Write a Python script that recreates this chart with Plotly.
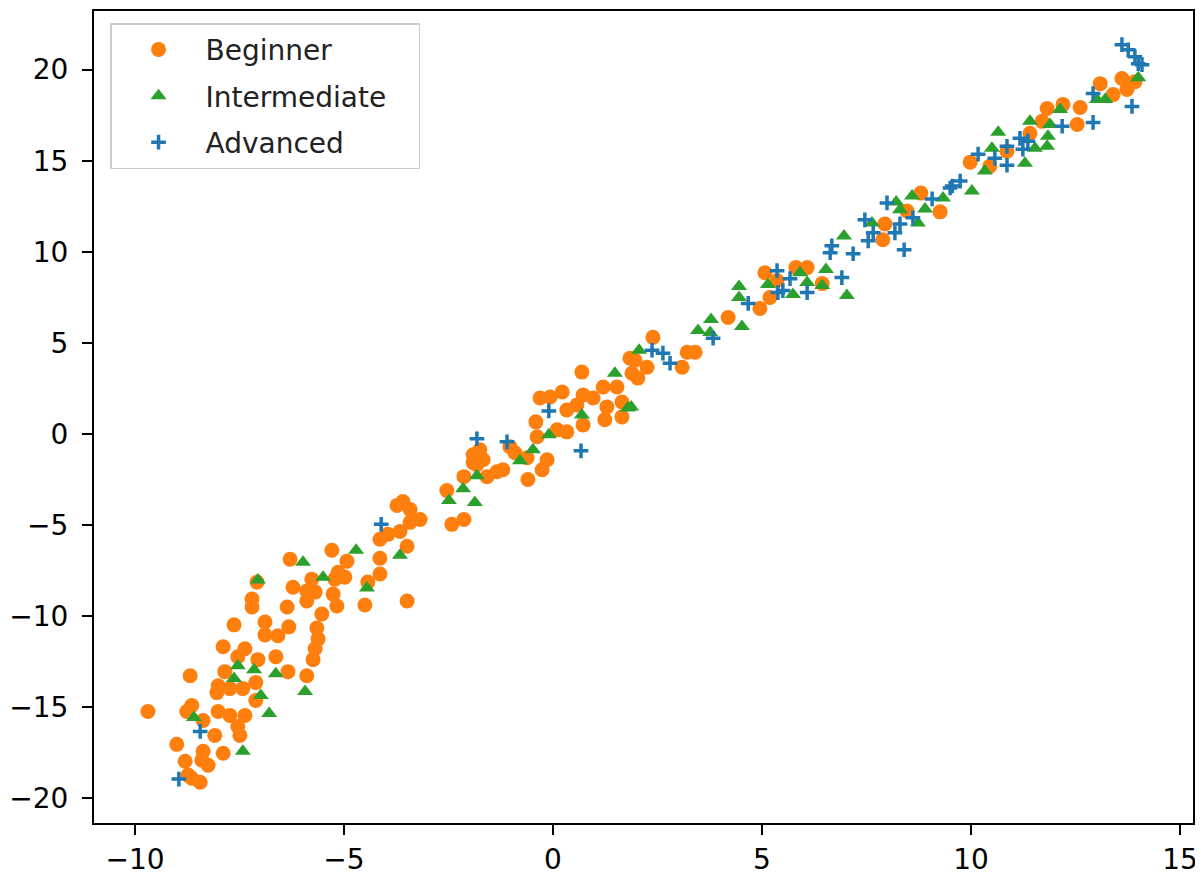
import plotly.graph_objects as go

# Beginner (orange circles)
beginner_x = [-7.89, -7.37, -6.89, -6.58, -5.74, -5.89, -8.68, -7.85, -7.54, -7.06, -6.63, -6.34,
              -8.01, -8.04, -7.73, -7.42, -7.11, -9.69, -8.64, -8.76, -8.37, -8.01, -7.73, -7.37,
              -7.54, -7.49, -7.11, -8.09, -9.00, -8.37, -7.89, -8.80, -8.40, -8.25, -8.73, -8.44,
              -8.64, -5.29, -6.29, -7.08, -6.22, -5.77, -5.14, -4.93, -7.20, -7.20, -6.36, -5.89,
              -5.69, -5.26, -5.17, -5.53, -7.63, -6.89, -6.32, -5.65, -5.62, -5.69, -1.91, -2.13,
              -2.54, -2.42, -2.13, -3.73, -3.59, -3.42, -3.18, -3.42, -3.66, -3.95, -4.14, -3.49,
              -4.14, -4.14, -4.98, -5.22, -4.43, -4.50, -3.49, -5.89, 0.69, 1.20, 1.53, 1.84,
              0.22, -0.31, -0.07, 0.72, 0.96, 0.33, 0.57, 1.29, 1.24, 1.65, 1.65, 0.72, -0.41,
              -0.38, 0.10, 0.33, -1.03, -0.91, -0.62, -0.14, -0.26, -1.91, -1.75, -1.67, -1.82,
              -1.34, -1.20, -1.58, -0.60, 5.07, 5.19, 4.95, 4.19, 2.39, 3.21, 3.40, 3.09, 1.96,
              2.25, 1.89, 2.03, 8.80, 8.47, 9.26, 7.94, 7.89, 5.81, 6.08, 5.36, 6.44, 11.82,
              12.20, 12.61, 12.54, 11.41, 11.70, 10.86, 9.98, 10.45, 13.40, 13.09, 13.61, 13.73,
              13.92]
beginner_y = [-11.69, -11.80, -11.04, -11.09, -12.40, -13.28, -13.28, -13.06, -12.24, -12.40, -12.24,
              -13.06, -13.83, -14.21, -13.99, -13.99, -13.66, -15.25, -14.92, -15.25, -15.74, -15.25,
              -15.46, -15.46, -16.07, -16.56, -14.64, -16.56, -17.05, -17.43, -17.54, -17.98, -17.92,
              -18.20, -18.74, -19.13, -18.91, -6.39, -6.89, -8.14, -8.42, -7.98, -7.60, -6.99, -9.07,
              -9.51, -9.51, -9.18, -8.69, -8.80, -9.45, -9.89, -10.49, -10.33, -10.60, -10.66,
              -11.26, -11.80, -1.58, -2.35, -3.11, -4.97, -4.70, -3.93, -3.72, -4.15, -4.70, -4.86,
              -5.36, -5.52, -5.79, -6.17, -6.83, -7.70, -7.87, -7.98, -8.14, -9.40, -9.18, -8.63,
              3.39, 2.57, 2.57, 4.15, 2.30, 1.97, 2.02, 2.13, 1.97, 1.31, 1.58, 1.48, 0.77, 1.75,
              0.93, 0.49, 0.66, -0.16, 0.22, 0.11, -0.71, -1.04, -1.31, -1.42, -1.97, -1.15, -0.87,
              -1.42, -1.69, -2.08, -1.97, -2.35, -2.51, 8.85, 7.49, 6.89, 6.39, 5.30, 4.48, 4.48,
              3.66, 4.04, 3.66, 3.33, 3.06, 13.22, 12.24, 12.19, 11.53, 10.66, 9.13, 9.13, 8.42,
              8.25, 17.87, 18.09, 17.92, 16.99, 16.50, 17.16, 15.52, 14.92, 14.70, 18.63, 19.23,
              19.51, 18.91, 19.34]

# Intermediate (green triangles)
intermediate_x = [-7.54, -7.15, -6.63, -7.63, -6.99, -5.93, -8.59, -6.79, -7.42, -7.06, -5.98, -5.50,
                  -4.71, -2.15, -2.49, -1.87, -1.82, -3.66, -4.45, 1.48, 0.69, 1.79, -0.10, -0.48,
                  -0.79, 4.45, 4.45, 5.14, 3.78, 3.47, 3.76, 4.52, 2.06, 1.87, 8.21, 8.59, 9.33,
                  8.30, 8.90, 8.73, 7.63, 6.96, 6.53, 5.91, 6.08, 6.44, 5.74, 7.03, 10.65, 11.41,
                  12.13, 13.01, 13.21, 11.89, 11.84, 11.82, 11.53, 11.29, 10.50, 10.33, 10.02, 14.00]
intermediate_y = [-12.73, -12.95, -13.17, -13.44, -14.37, -14.15, -15.57, -15.36, -17.43, -8.03, -7.05,
                  -7.87, -6.39, -3.01, -3.66, -3.77, -2.30, -6.67, -8.47, 3.33, 1.04, 1.42, -0.05,
                  -0.87, -1.48, 8.09, 7.49, 8.20, 6.28, 5.68, 5.57, 5.90, 4.59, 1.48, 12.73, 13.06,
                  12.95, 12.30, 12.35, 11.58, 11.58, 10.87, 9.02, 8.85, 8.31, 8.14, 7.65, 7.60, 16.56,
                  17.16, 17.81, 18.36, 18.36, 16.99, 16.34, 15.79, 15.68, 14.86, 15.68, 14.43, 13.33,
                  19.56]

# Advanced (blue pluses)
advanced_x = [-8.44, -8.95, -4.11, -1.82, -1.10, -0.10, 0.67, 4.67, 5.36, 5.38, 3.83, 2.37, 2.63,
              2.80, 7.99, 9.07, 9.55, 7.46, 8.30, 8.18, 7.54, 7.66, 6.67, 6.63, 7.18, 8.40, 6.91,
              5.67, 5.50, 6.08, 8.61, 11.17, 11.24, 10.86, 10.86, 10.17, 11.36, 12.18, 12.92, 9.74,
              9.50, 10.57, 12.92, 13.61, 13.76, 13.92, 14.00, 14.09, 13.85]
advanced_y = [-16.34, -18.96, -4.97, -0.27, -0.44, 1.26, -0.93, 7.16, 8.96, 7.76, 5.25, 4.59, 4.43,
              3.88, 12.68, 12.90, 13.61, 11.75, 11.53, 11.04, 10.60, 11.04, 10.33, 9.95, 9.89, 10.11,
              8.58, 8.52, 7.87, 7.76, 11.86, 16.23, 15.63, 15.79, 14.75, 15.36, 16.07, 16.89, 17.10,
              13.88, 13.50, 15.14, 18.69, 21.37, 21.09, 20.71, 20.33, 20.27, 17.98]

series_names = ["Beginner", "Intermediate", "Advanced"]
x_ticks = [-10, -5, 0, 5, 10, 15]
y_ticks = [-20, -15, -10, -5, 0, 5, 10, 15, 20]

FONT = "DejaVu Sans"
PAD = "\u00a0\u00a0\u00a0"  # keeps the legend box as wide as the reference

fig = go.Figure()
fig.add_trace(go.Scatter(
    x=beginner_x, y=beginner_y, mode="markers", name=series_names[0], legendgroup="b",
    marker=dict(symbol="circle", size=15, color="#ff7f0e", line=dict(width=0)),
))
fig.add_trace(go.Scatter(
    x=intermediate_x, y=intermediate_y, mode="markers", name=series_names[1] + PAD, legendgroup="i",
    marker=dict(symbol="triangle-up", size=14, color="#2ca02c", line=dict(width=0)),
))
fig.add_trace(go.Scatter(
    x=advanced_x, y=advanced_y, mode="markers", name=series_names[2], legendgroup="a",
    marker=dict(symbol="cross-thin", size=10.5, color="#1f77b4",
                line=dict(width=3.5, color="#1f77b4")),
))

axis_common = dict(
    showgrid=False, zeroline=False, showline=True, mirror=True,
    linecolor="black", linewidth=2, ticks="outside", ticklen=10, tickwidth=2,
    tickcolor="black", tickfont=dict(family=FONT, size=28, color="black"),
)

fig.update_layout(
    width=1195, height=869,
    margin=dict(l=86, r=10, t=1, b=52),
    paper_bgcolor="white", plot_bgcolor="white",
    font=dict(family=FONT, size=28, color="black"),
    xaxis=dict(range=[-10.98, 15.31], tickvals=x_ticks, **axis_common),
    yaxis=dict(range=[-21.37, 23.22], tickvals=y_ticks, ticklabelstandoff=8, **axis_common),
    legend=dict(
        x=0.0146, y=0.985, xanchor="left", yanchor="top",
        bgcolor="rgba(255,255,255,0.8)", bordercolor="#cccccc", borderwidth=1.5,
        font=dict(family=FONT, size=28, color="#222222"),
        tracegroupgap=7, itemwidth=84,
    ),
    showlegend=True,
)

fig.write_html("out.html")
